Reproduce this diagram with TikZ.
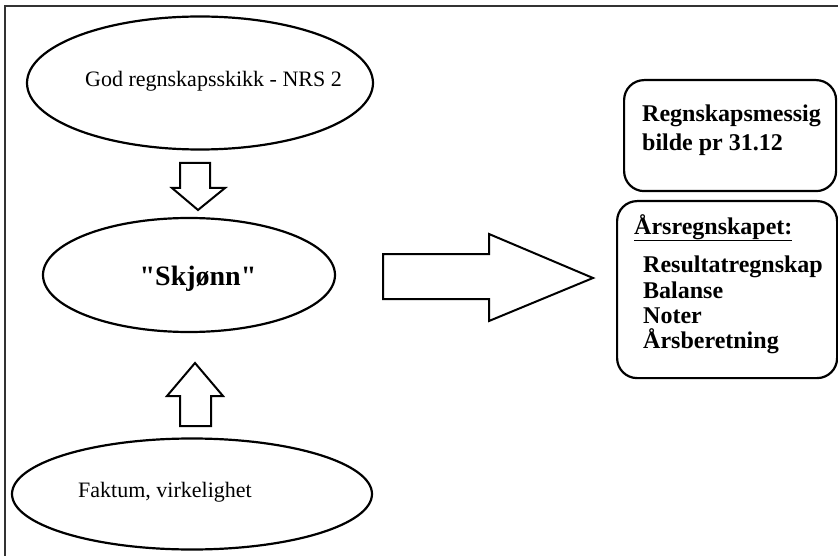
\documentclass[tikz,border=0pt]{standalone}
\usepackage{fontspec}
\setmainfont{Liberation Serif}[Ligatures=TeXOff]
\usetikzlibrary{shapes.geometric,positioning}

\begin{document}
\begin{tikzpicture}[x=1pt, y={(0pt,-1pt)},
                oval/.style={draw, ellipse, line width=2.2pt, inner sep=0pt},
                infobox/.style={draw, rounded corners=20pt, line width=2.2pt, inner sep=0pt, anchor=north west},
                blockarrow/.style={draw, line width=2pt, line join=miter, fill=white},
                plaintext/.style={font=\fontsize{22}{26}\selectfont, inner sep=0pt, anchor=base west},
                boldtext/.style={font=\fontsize{24}{25.3}\selectfont\bfseries, inner sep=0pt, align=left},
              ]
              \clip (0,0) rectangle (838,556);
              \draw[line width=1.3pt, draw=black!80] (5,6) rectangle (860,580);

              \node[oval, minimum width=346pt, minimum height=133pt] at (200,83) (nrs) {};
              \node[oval, minimum width=292pt, minimum height=114pt] at (189,275) (skjonn) {};
              \node[oval, minimum width=360pt, minimum height=111pt] at (192,494) (faktum) {};
              \node[plaintext] at (85,87) (nrstext) {God regnskapsskikk - NRS 2};
              \node[plaintext] at (78,497) (faktumtext) {Faktum, virkelighet};
              \node[font=\fontsize{28}{30}\selectfont\bfseries, inner sep=0pt, anchor=base] at (198,285) (skjonntext) {"Skjønn"};

              \node[infobox, minimum width=212pt, minimum height=111pt] at (623,79) (bilde) {};
              \node[infobox, minimum width=220pt, minimum height=177pt] at (616,200) (aars) {};
              \node[boldtext, anchor=north west] at (642,105) (bildetext) {Regnskapsmessig\\[3pt]bilde pr 31.12};
              \node[boldtext, anchor=base west] at (634,234) (aarshead) {\underline{Årsregnskapet:}};
              \node[boldtext, anchor=north west] at (643,256) (aarsliste) {Resultatregnskap\\Balanse\\Noter\\Årsberetning};

              % block arrows
              \draw[blockarrow] (180,163) -- (210,163) -- (210,188) -- (225,188) -- (198,210)
                -- (172,188) -- (180,188) -- cycle;
              \draw[blockarrow] (180,426) -- (211,426) -- (211,396) -- (223,396) -- (195,363)
                -- (167,396) -- (180,396) -- cycle;
              \draw[blockarrow] (383,254) -- (489,254) -- (489,234) -- (593,278) -- (489,321)
                -- (489,299) -- (383,299) -- cycle;
            \end{tikzpicture}
\end{document}
